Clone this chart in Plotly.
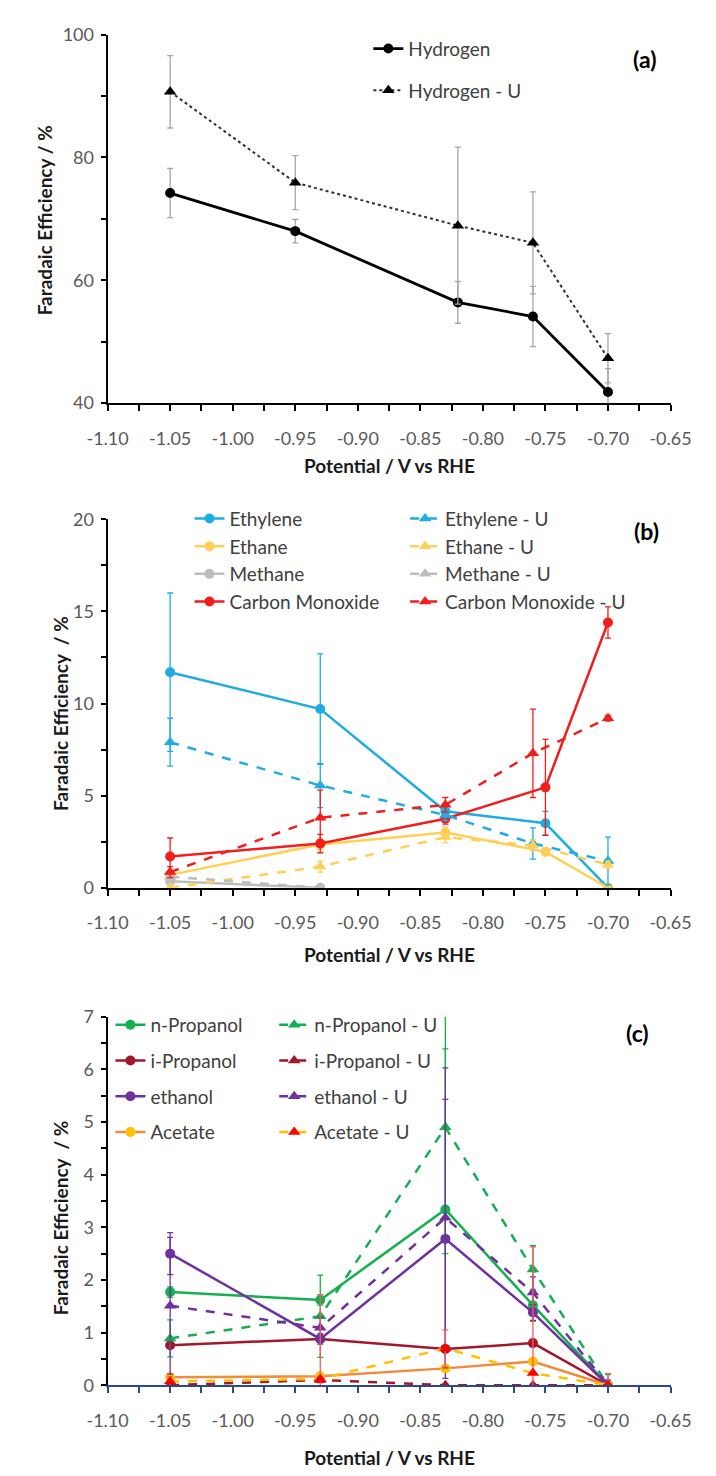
import plotly.graph_objects as go

# ---------------- data ----------------
# Panel (a)
x_a = [-1.05, -0.95, -0.82, -0.76, -0.70]
hydrogen = [74.2, 68.0, 56.4, 54.1, 41.8]
hydrogen_err = [4.0, 1.9, 3.4, 4.9, 3.8]
hydrogen_u = [90.7, 75.9, 68.9, 66.1, 47.3]
hydrogen_u_err = [5.9, 4.4, 12.8, 8.3, 4.0]

# Panel (b)
x_b = [-1.05, -0.93, -0.83, -0.75, -0.70]
x_b_u = [-1.05, -0.93, -0.83, -0.76, -0.70]
ethylene = [11.7, 9.7, 4.15, 3.5, 0.0]
ethylene_err = [4.3, 3.0, 0.4, 0.65, 0.0]
ethylene_u = [7.9, 5.55, 3.95, 2.4, 1.45]
ethylene_u_err = [1.3, 1.2, 0.3, 0.85, 1.3]
ethane = [0.7, 2.35, 3.0, 1.95, 0.0]
ethane_err = [0.2, 0.3, 0.3, 0.2, 0.0]
ethane_u = [0.0, 1.15, 2.75, 2.3, 1.25]
ethane_u_err = [0.1, 0.3, 0.3, 0.3, 0.2]
methane = [0.35, 0.0, None, None, None]
methane_err = [0.1, 0.05, 0, 0, 0]
methane_u = [0.6, 0.0, None, None, None]
methane_u_err = [0.1, 0.05, 0, 0, 0]
co = [1.7, 2.4, 3.75, 5.45, 14.4]
co_err = [1.0, 0.5, 0.3, 2.6, 0.85]
co_u = [0.85, 3.8, 4.5, 7.3, 9.2]
co_u_err = [0.3, 1.5, 0.4, 2.4, 0.15]

# Panel (c)
x_c = [-1.05, -0.93, -0.83, -0.76, -0.70]
npropanol = [1.77, 1.62, 3.34, 1.52, 0.0]
npropanol_err = [0.1, 0.1, 3.05, 0.3, 0.0]
npropanol_u = [0.89, 1.31, 4.9, 2.2, 0.0]
npropanol_u_err = [0.35, 0.78, 2.4, 0.45, 0.2]
ipropanol = [0.76, 0.88, 0.69, 0.8, 0.0]
ipropanol_err = [0.05, 0.05, 0.05, 0.05, 0.0]
ipropanol_u = [0.0, 0.1, 0.0, 0.0, 0.0]
ipropanol_u_err = [0.02, 0.05, 0.02, 0.02, 0.0]
ethanol = [2.5, 0.88, 2.78, 1.38, 0.0]
ethanol_err = [0.4, 0.1, 2.65, 0.15, 0.0]
ethanol_u = [1.51, 1.09, 3.18, 1.76, 0.0]
ethanol_u_err = [1.3, 0.2, 2.85, 0.3, 0.1]
acetate = [0.15, 0.17, 0.32, 0.45, 0.0]
acetate_err = [0.05, 0.05, 0.05, 0.05, 0.0]
acetate_u = [0.07, 0.12, 0.7, 0.23, 0.0]
acetate_u_err = [0.1, 1.6, 0.35, 2.4, 0.22]

x_ticks = [-1.10, -1.05, -1.00, -0.95, -0.90, -0.85, -0.80, -0.75, -0.70, -0.65]
x_tick_labels = ["-1.10", "-1.05", "-1.00", "-0.95", "-0.90", "-0.85", "-0.80", "-0.75", "-0.70", "-0.65"]

x_title = "Potential / V vs RHE"
y_title_a = "Faradaic Efficiency / %"
y_title_bc = "Faradaic Efficiency  / %"

# ---------------- figure ----------------
W, H = 716, 1476
FONT = "Lato"
fig = go.Figure()


def px_x(p):
    return p / W


def px_y(p):
    return 1 - p / H


def add(x, y, err, name, color, dash, symbol, msize, xa, ya, legend, group,
        ecolor=None, lw=2.5, mcolor=None):
    fig.add_trace(go.Scatter(
        x=x, y=y, name=name, mode="lines+markers",
        line=dict(color=color, width=lw, dash=dash),
        marker=dict(symbol=symbol, size=msize, color=mcolor or color),
        error_y=dict(type="data", array=err, color=ecolor or color,
                     thickness=1.3, width=3),
        xaxis=xa, yaxis=ya, legend=legend, legendgroup=group,
        connectgaps=False,
    ))


# (a)
add(x_a, hydrogen, hydrogen_err, "Hydrogen", "black", "solid", "circle", 10,
    "x", "y", "legend", "a1", ecolor="#A6A6A6", lw=2.8)
add(x_a, hydrogen_u, hydrogen_u_err, "Hydrogen - U", "#303030", "dot", "triangle-up", 11,
    "x", "y", "legend", "a2", ecolor="#A6A6A6", lw=2, mcolor="black")

# (b)
C_ETY, C_ETA, C_MET, C_CO = "#1EACE3", "#FFD055", "#BDBDBD", "#F21D1D"
add(x_b, ethylene, ethylene_err, "Ethylene", C_ETY, "solid", "circle", 10, "x2", "y2", "legend2", "b1")
add(x_b, ethane, ethane_err, "Ethane", C_ETA, "solid", "circle", 10, "x2", "y2", "legend2", "b2")
add(x_b, methane, methane_err, "Methane", C_MET, "solid", "circle", 10, "x2", "y2", "legend2", "b3")
add(x_b, co, co_err, "Carbon Monoxide", C_CO, "solid", "circle", 10, "x2", "y2", "legend2", "b4")
add(x_b_u, ethylene_u, ethylene_u_err, "Ethylene - U", C_ETY, "dash", "triangle-up", 11, "x2", "y2", "legend3", "b5")
add(x_b_u, ethane_u, ethane_u_err, "Ethane - U", C_ETA, "dash", "triangle-up", 11, "x2", "y2", "legend3", "b6")
add(x_b_u, methane_u, methane_u_err, "Methane - U", C_MET, "dash", "triangle-up", 11, "x2", "y2", "legend3", "b7")
add(x_b_u, co_u, co_u_err, "Carbon Monoxide - U", C_CO, "dash", "triangle-up", 11, "x2", "y2", "legend3", "b8")

# (c)
C_NP, C_IP, C_ET, C_AC, C_ACM = "#12B04E", "#A3172B", "#7030A0", "#F08A3C", "#FFC000"
add(x_c, npropanol, npropanol_err, "n-Propanol", C_NP, "solid", "circle", 10, "x3", "y3", "legend4", "c1")
add(x_c, ipropanol, ipropanol_err, "i-Propanol", C_IP, "solid", "circle", 10, "x3", "y3", "legend4", "c2")
add(x_c, ethanol, ethanol_err, "ethanol", C_ET, "solid", "circle", 10, "x3", "y3", "legend4", "c3")
add(x_c, acetate, acetate_err, "Acetate", C_AC, "solid", "circle", 10, "x3", "y3", "legend4", "c4",
    mcolor=C_ACM)
add(x_c, npropanol_u, npropanol_u_err, "n-Propanol - U", C_NP, "dash", "triangle-up", 11, "x3", "y3", "legend5", "c5")
add(x_c, ipropanol_u, ipropanol_u_err, "i-Propanol - U", C_IP, "dash", "triangle-up", 11, "x3", "y3", "legend5", "c6")
add(x_c, ethanol_u, ethanol_u_err, "ethanol - U", C_ET, "dash", "triangle-up", 11, "x3", "y3", "legend5", "c7")
add(x_c, acetate_u, acetate_u_err, "Acetate - U", C_ACM, "dash", "triangle-up", 11, "x3", "y3", "legend5", "c8",
    ecolor="#FF5A5A", mcolor="#FF0000")

xdom = [px_x(92), px_x(690)]
tickfont = dict(family=FONT, size=18, color="#595959")


def xaxis(anchor, linecolor="black"):
    return dict(domain=xdom, anchor=anchor, range=[-1.10, -0.65],
                tickmode="array", tickvals=x_ticks, ticktext=x_tick_labels,
                showline=True, linecolor=linecolor, linewidth=2,
                ticks="outside", ticklen=6, tickwidth=2, tickcolor=linecolor,
                minor=dict(tickmode="linear", tick0=-1.10, dtick=0.025, ticks="outside",
                           ticklen=6, tickwidth=2, tickcolor=linecolor, showgrid=False),
                showgrid=False, zeroline=False, tickfont=tickfont, ticklabelstandoff=12)


def yaxis(anchor, dom, rng, dtick, mdtick):
    return dict(domain=dom, anchor=anchor, range=rng, dtick=dtick, tick0=rng[0],
                showline=True, linecolor="black", linewidth=2,
                ticks="outside", ticklen=5, tickwidth=2, tickcolor="black",
                minor=dict(dtick=mdtick, ticks="outside", ticklen=5, tickwidth=2,
                           tickcolor="black", showgrid=False),
                showgrid=False, zeroline=False, tickfont=tickfont, ticklabelstandoff=3)


leg_common = dict(xanchor="left", yanchor="top", bgcolor="rgba(0,0,0,0)",
                  font=dict(family=FONT, size=19, color="#404040"),
                  traceorder="grouped", itemwidth=30)

fig.update_layout(
    width=W, height=H,
    margin=dict(l=0, r=0, t=0, b=0),
    paper_bgcolor="white", plot_bgcolor="white",
    font=dict(family=FONT, size=19, color="#404040"),
    xaxis=xaxis("y"),
    yaxis=yaxis("x", [px_y(397), px_y(23)], [40, 100], 20, 10),
    xaxis2=xaxis("y2"),
    yaxis2=yaxis("x2", [px_y(889), px_y(515)], [0, 20], 5, 2.5),
    xaxis3=xaxis("y3", linecolor="#2B4A8B"),
    yaxis3=yaxis("x3", [px_y(1394), px_y(1020)], [0, 7], 1, 0.5),
    legend=dict(x=px_x(369), y=px_y(18), tracegroupgap=14, **leg_common),
    legend2=dict(x=px_x(179), y=px_y(495), tracegroupgap=0, **leg_common),
    legend3=dict(x=px_x(408), y=px_y(495), tracegroupgap=0, **leg_common),
    legend4=dict(x=px_x(95), y=px_y(1009), tracegroupgap=8, **leg_common),
    legend5=dict(x=px_x(269), y=px_y(1009), tracegroupgap=8, **leg_common),
    showlegend=True,
)

annotations = []
for yc in [460, 957, 1467]:
    annotations.append(dict(text="<b>" + x_title + "</b>", x=(xdom[0] + xdom[1]) / 2, y=px_y(yc),
                            xref="paper", yref="paper", showarrow=False,
                            xanchor="center", yanchor="middle",
                            font=dict(family=FONT, size=19, color="#1A1A1A")))
for txt, xc, yc in [(y_title_a, 25, 212), (y_title_bc, 42, 712), (y_title_bc, 42, 1224)]:
    annotations.append(dict(text="<b>" + txt + "</b>", x=px_x(xc), y=px_y(yc),
                            xref="paper", yref="paper", showarrow=False, textangle=-90,
                            xanchor="center", yanchor="middle",
                            font=dict(family=FONT, size=19, color="#1A1A1A")))
for txt, xc, yc in [("(a)", 662, 48), ("(b)", 665, 527), ("(c)", 655, 1036)]:
    annotations.append(dict(text="<b>" + txt + "</b>", x=px_x(xc), y=px_y(yc),
                            xref="paper", yref="paper", showarrow=False,
                            xanchor="center", yanchor="middle",
                            font=dict(family=FONT, size=23, color="black")))
fig.update_layout(annotations=annotations)

fig.write_html("out.html", config={"displayModeBar": False},
               post_script="document.body.style.margin='0';document.body.style.overflow='hidden';")
